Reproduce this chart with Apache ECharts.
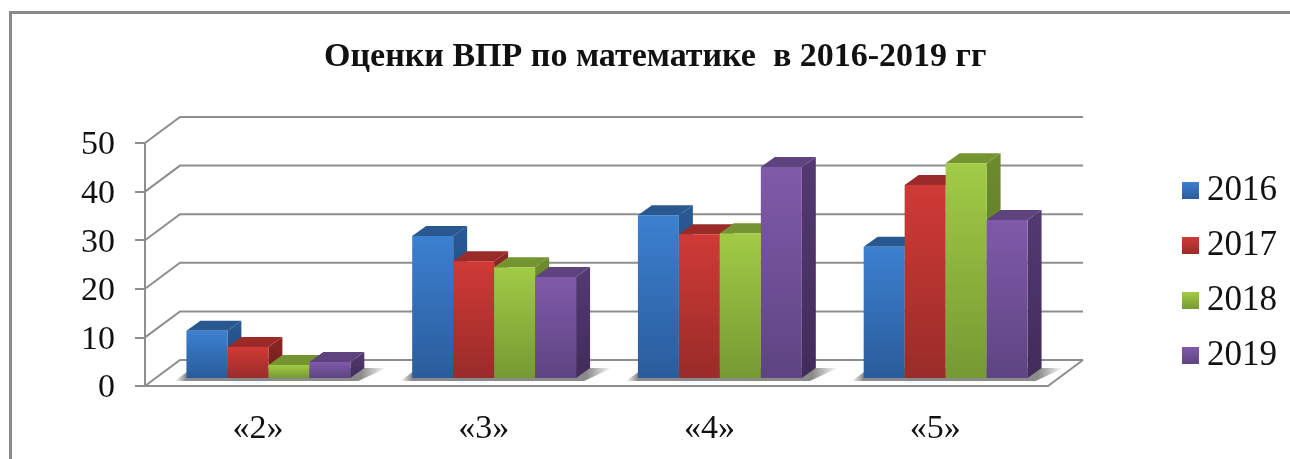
<!DOCTYPE html>
<html><head><meta charset="utf-8">
<style>html,body{margin:0;padding:0;background:#fff}#c{width:1290px;height:459px}</style>
<script src="https://cdn.jsdelivr.net/npm/echarts@6/dist/echarts.min.js"></script>
</head><body><div id="c"></div>
<script>
const categories = ['«2»','«3»','«4»','«5»'];
const yTicks = [0,10,20,30,40,50];
const s2016 = [9.7,29.2,33.5,27.0];
const s2017 = [6.4,24.0,29.6,39.7];
const s2018 = [2.7,22.8,29.8,44.2];
const s2019 = [3.3,20.8,43.4,32.5];
const seriesNames = ['2016','2017','2018','2019'];
const seriesValues = [s2016,s2017,s2018,s2019];

const grad=(a,b)=>new echarts.graphic.LinearGradient(0,0,0,1,[{offset:0,color:a},{offset:1,color:b}]);
const faces=[
 {front:['#3c80d0','#2a5c9b'],top:'#28588f',side:['#285a96','#1f4674']},
 {front:['#d03a36','#992c29'],top:'#9b2b28',side:['#8c2623','#6e1d1b']},
 {front:['#a2cb46','#769932'],top:'#739431',side:['#6c8c2d','#587426']},
 {front:['#805aaa','#5e4482'],top:'#5f437f',side:['#533a72','#412c5a']}
];
const DX=35,DY=26;         // depth of the chart box
const BX=10.5,BY=8;        // bar plane inset from the front edge
const CX=14,CY=10;         // depth of a bar
const BAR=0.1815;          // bar width as a share of a category band
const GRID='#8e8e8e';

function bars(idx){
  return function(params,api){
    const base=api.coord([api.value(0),0]), top=api.coord([api.value(0),api.value(1)]);
    const w=api.size([1,0])[0]*BAR;
    const x0=base[0]+BX+(idx-2)*w, x1=x0+w, y0=base[1]-BY, y1=top[1]-BY;
    const f=faces[idx];
    return {type:'group',children:[
      {type:'polygon',shape:{points:[[x1,y1],[x1+CX,y1-CY],[x1+CX,y0-CY],[x1,y0]]},style:{fill:grad(f.side[0],f.side[1])}},
      {type:'polygon',shape:{points:[[x0,y1],[x0+CX,y1-CY],[x1+CX,y1-CY],[x1,y1]]},style:{fill:f.top}},
      {type:'rect',shape:{x:x0,y:y1,width:w,height:y0-y1},style:{fill:grad(f.front[0],f.front[1])}}
    ]};
  };
}
function walls(params,api){
  const cs=params.coordSys, v=api.value(1), y=api.coord([0,v])[1], L=cs.x, R=cs.x+cs.width;
  const ch=[{type:'polyline',shape:{points:[[L,y],[L+DX,y-DY],[R+DX,y-DY]]},style:{fill:'none',stroke:GRID,lineWidth:2}}];
  if(v===0) ch.push({type:'polyline',shape:{points:[[R+DX,y-DY],[R,y],[L,y]]},style:{fill:'none',stroke:GRID,lineWidth:2}});
  return {type:'group',children:ch};
}
function floorShadow(params,api){
  const base=api.coord([api.value(0),0]);
  const w=api.size([1,0])[0]*BAR;
  const x0=base[0]+BX-2*w, x1=x0+4*w, y0=base[1]-BY;
  const c=new echarts.graphic.LinearGradient(0,0,1,0,[
    {offset:0,color:'rgba(110,110,110,0)'},{offset:0.055,color:'rgba(110,110,110,.8)'},
    {offset:0.88,color:'rgba(110,110,110,.8)'},{offset:1,color:'rgba(110,110,110,0)'}]);
  return {type:'polygon',shape:{points:[[x0-12,y0+3],[x1+8,y0+3],[x1+36,y0-10],[x0+6,y0-10]]},style:{fill:c}};
}

const series=[
 {type:'custom',coordinateSystem:'cartesian2d',renderItem:walls,data:yTicks.map(v=>[0,v]),encode:{x:0,y:1},silent:true,z:1},
 {type:'custom',coordinateSystem:'cartesian2d',renderItem:floorShadow,data:categories.map((c,i)=>[i,0]),encode:{x:0,y:1},silent:true,z:2},
 ...seriesNames.map((n,i)=>({
   type:'custom',name:n,coordinateSystem:'cartesian2d',renderItem:bars(i),
   itemStyle:{color:grad(faces[i].front[0],faces[i].front[1])},
   data:seriesValues[i].map((v,k)=>[k,v]),encode:{x:0,y:1},z:3
 }))
];

const chart=echarts.init(document.getElementById('c'),null,{renderer:'canvas'});
chart.setOption({
  animation:false,backgroundColor:'#fff',
  title:{text:'Оценки ВПР по математике  в 2016-2019 гг',left:324,top:40,padding:0,
    textStyle:{fontFamily:'Liberation Serif',fontSize:34,fontWeight:'bold',color:'#111'}},
  legend:{data:seriesNames,orient:'vertical',left:1182,top:173,padding:0,itemWidth:17,itemHeight:17,itemGap:20,
    selectedMode:false,icon:'rect',
    textStyle:{fontFamily:'Liberation Serif',fontSize:35,lineHeight:34,color:'#111',padding:[0,0,0,3]}},
  grid:{left:145,top:143,width:903,height:243},
  xAxis:{type:'category',data:categories,boundaryGap:true,
    axisLine:{lineStyle:{color:GRID,width:2}},axisTick:{show:false},
    axisLabel:{fontFamily:'Liberation Serif',fontSize:34,color:'#111',margin:26},splitLine:{show:false}},
  yAxis:{type:'value',min:0,max:50,interval:10,
    axisLine:{show:true,lineStyle:{color:GRID,width:2}},axisTick:{show:true,length:10,lineStyle:{color:GRID,width:2}},
    axisLabel:{formatter:'{a|{value}}',margin:30,
      rich:{a:{fontFamily:'Liberation Serif',fontSize:34,color:'#111',padding:[5,0,0,0]}}},splitLine:{show:false}},
  graphic:[
    {type:'polyline',shape:{points:[[10.5,459],[10.5,12.5],[1290,12.5]]},style:{fill:'none',stroke:'#8a8a8a',lineWidth:3},z:0,silent:true}
  ],
  series
});
</script></body></html>
